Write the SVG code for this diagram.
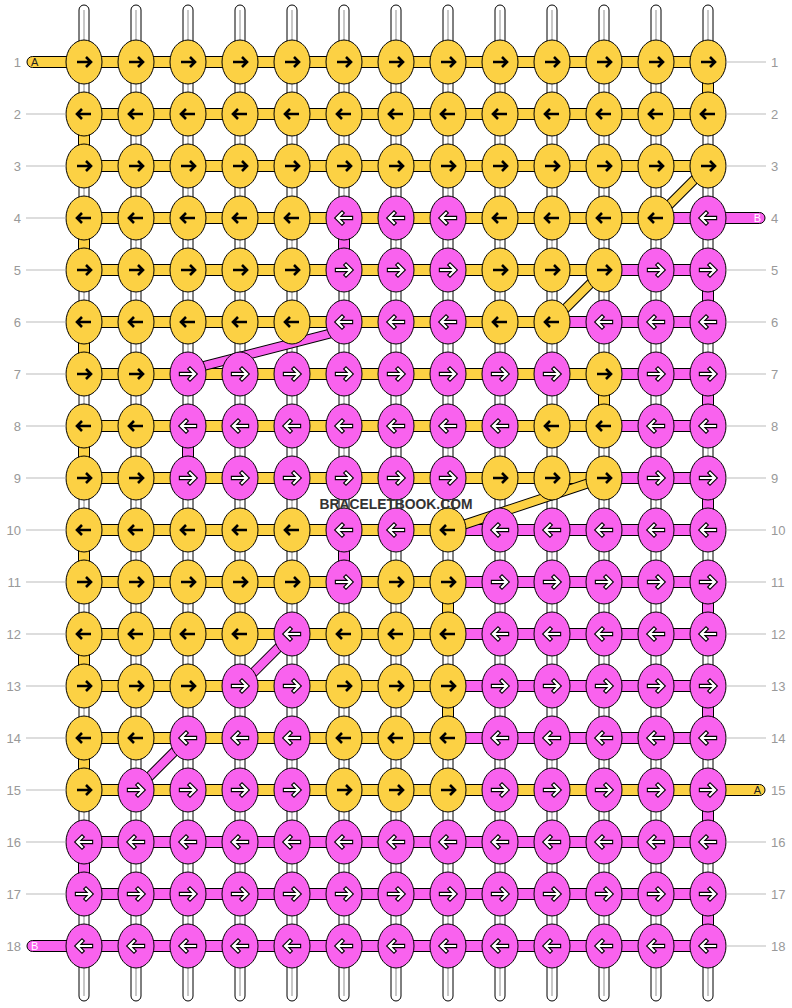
<svg xmlns="http://www.w3.org/2000/svg" xmlns:xlink="http://www.w3.org/1999/xlink" width="792" height="1008" viewBox="0 0 792 1008">
<style>
.Y{fill:#FCD144;stroke:#000;stroke-width:1}
.P{fill:#F962EE;stroke:#000;stroke-width:1}
.ab{fill:none;stroke:#000;stroke-width:2.6}
.ao{fill:none;stroke:#000;stroke-width:4.4;stroke-linecap:square}
.aw{fill:none;stroke:#fff;stroke-width:2.2;stroke-linecap:square}
.st{fill:#fff;stroke:#000;stroke-width:1}
.sl{stroke:#c8c8c8;stroke-width:2}
.dy{stroke:#000;stroke-width:10;stroke-linecap:butt}
.dyi{stroke:#FCD144;stroke-width:8}
.dpi{stroke:#F962EE;stroke-width:8}
.lab{font-family:"Liberation Sans",Arial,sans-serif;font-size:13px;fill:#999}
.ll{stroke:#bbb;stroke-width:1}
.tl{font-family:"Liberation Sans",Arial,sans-serif;font-size:11px}
</style>
<defs>
<g id="Yr"><ellipse rx="18" ry="22" class="Y"/><path d="M-7,0H6M2,-5L7,0L2,5" class="ab"/></g>
<g id="Yl"><ellipse rx="18" ry="22" class="Y"/><path d="M7,0H-6M-2,-5L-7,0L-2,5" class="ab"/></g>
<g id="Pr"><ellipse rx="18" ry="22" class="P"/><path d="M-7,0H6M2,-5L7,0L2,5" class="ao"/><path d="M-7,0H6M2,-5L7,0L2,5" class="aw"/></g>
<g id="Pl"><ellipse rx="18" ry="22" class="P"/><path d="M7,0H-6M-2,-5L-7,0L-2,5" class="ao"/><path d="M7,0H-6M-2,-5L-7,0L-2,5" class="aw"/></g>
</defs>
<g id="strands">
<rect class="st" x="79" y="5" width="10" height="996" rx="5"/><line class="sl" x1="84" y1="10" x2="84" y2="996"/>
<rect class="st" x="131" y="5" width="10" height="996" rx="5"/><line class="sl" x1="136" y1="10" x2="136" y2="996"/>
<rect class="st" x="183" y="5" width="10" height="996" rx="5"/><line class="sl" x1="188" y1="10" x2="188" y2="996"/>
<rect class="st" x="235" y="5" width="10" height="996" rx="5"/><line class="sl" x1="240" y1="10" x2="240" y2="996"/>
<rect class="st" x="287" y="5" width="10" height="996" rx="5"/><line class="sl" x1="292" y1="10" x2="292" y2="996"/>
<rect class="st" x="339" y="5" width="10" height="996" rx="5"/><line class="sl" x1="344" y1="10" x2="344" y2="996"/>
<rect class="st" x="391" y="5" width="10" height="996" rx="5"/><line class="sl" x1="396" y1="10" x2="396" y2="996"/>
<rect class="st" x="443" y="5" width="10" height="996" rx="5"/><line class="sl" x1="448" y1="10" x2="448" y2="996"/>
<rect class="st" x="495" y="5" width="10" height="996" rx="5"/><line class="sl" x1="500" y1="10" x2="500" y2="996"/>
<rect class="st" x="547" y="5" width="10" height="996" rx="5"/><line class="sl" x1="552" y1="10" x2="552" y2="996"/>
<rect class="st" x="599" y="5" width="10" height="996" rx="5"/><line class="sl" x1="604" y1="10" x2="604" y2="996"/>
<rect class="st" x="651" y="5" width="10" height="996" rx="5"/><line class="sl" x1="656" y1="10" x2="656" y2="996"/>
<rect class="st" x="703" y="5" width="10" height="996" rx="5"/><line class="sl" x1="708" y1="10" x2="708" y2="996"/>
</g>
<g id="connectors">
<rect class="Y" x="27" y="56.5" width="681" height="11" rx="5.5"/>
<rect class="Y" x="84" y="108.5" width="624" height="11"/>
<rect class="Y" x="84" y="160.5" width="624" height="11"/>
<rect class="Y" x="84" y="212.5" width="572" height="11"/><rect class="P" x="656" y="212.5" width="109" height="11" rx="5.5"/>
<rect class="Y" x="84" y="264.5" width="520" height="11"/><rect class="P" x="604" y="264.5" width="104" height="11"/>
<rect class="Y" x="84" y="316.5" width="468" height="11"/><rect class="P" x="552" y="316.5" width="156" height="11"/>
<rect class="Y" x="84" y="368.5" width="520" height="11"/><rect class="P" x="604" y="368.5" width="104" height="11"/>
<rect class="Y" x="84" y="420.5" width="520" height="11"/><rect class="P" x="604" y="420.5" width="104" height="11"/>
<rect class="Y" x="84" y="472.5" width="520" height="11"/><rect class="P" x="604" y="472.5" width="104" height="11"/>
<rect class="Y" x="84" y="524.5" width="364" height="11"/><rect class="P" x="448" y="524.5" width="260" height="11"/>
<rect class="Y" x="84" y="576.5" width="364" height="11"/><rect class="P" x="448" y="576.5" width="260" height="11"/>
<rect class="Y" x="84" y="628.5" width="364" height="11"/><rect class="P" x="448" y="628.5" width="260" height="11"/>
<rect class="Y" x="84" y="680.5" width="364" height="11"/><rect class="P" x="448" y="680.5" width="260" height="11"/>
<rect class="Y" x="84" y="732.5" width="364" height="11"/><rect class="P" x="448" y="732.5" width="260" height="11"/>
<rect class="Y" x="84" y="784.5" width="681" height="11" rx="5.5"/>
<rect class="P" x="84" y="836.5" width="624" height="11"/>
<rect class="P" x="84" y="888.5" width="624" height="11"/>
<rect class="P" x="27" y="940.5" width="681" height="11" rx="5.5"/>
<rect class="Y" x="702.5" y="72" width="32" height="0" style="display:none"/>
<rect class="Y" x="702.5" y="72" width="11" height="32"/>
<rect class="Y" x="78.5" y="124" width="11" height="32"/>
<rect class="Y" x="78.5" y="228" width="11" height="32"/>
<rect class="Y" x="78.5" y="332" width="11" height="32"/>
<rect class="Y" x="78.5" y="436" width="11" height="32"/>
<rect class="Y" x="78.5" y="540" width="11" height="32"/>
<rect class="Y" x="78.5" y="644" width="11" height="32"/>
<rect class="Y" x="78.5" y="748" width="11" height="32"/>
<rect class="P" x="78.5" y="852" width="11" height="32"/>
<rect class="P" x="338.5" y="228" width="11" height="32"/>
<rect class="P" x="338.5" y="540" width="11" height="32"/>
<rect class="P" x="182.5" y="436" width="11" height="32"/>
<rect class="P" x="702.5" y="280" width="11" height="32"/>
<rect class="P" x="702.5" y="384" width="11" height="32"/>
<rect class="P" x="702.5" y="488" width="11" height="32"/>
<rect class="P" x="702.5" y="592" width="11" height="32"/>
<rect class="P" x="702.5" y="696" width="11" height="32"/>
<rect class="P" x="702.5" y="800" width="11" height="32"/>
<rect class="P" x="702.5" y="904" width="11" height="32"/>
<rect class="Y" x="598.5" y="384" width="11" height="32"/>
<rect class="Y" x="442.5" y="592" width="11" height="32"/>
<rect class="Y" x="442.5" y="696" width="11" height="32"/>
<line class="dy" x1="708" y1="166" x2="656" y2="218"/><line class="dyi" x1="708" y1="166" x2="656" y2="218"/>
<line class="dy" x1="604" y1="270" x2="552" y2="322"/><line class="dyi" x1="604" y1="270" x2="552" y2="322"/>
<line class="dy" x1="604" y1="478" x2="448" y2="530"/><line class="dyi" x1="604" y1="478" x2="448" y2="530"/>
<line class="dy" x1="344" y1="330" x2="188" y2="370"/><line class="dpi" x1="344" y1="330" x2="188" y2="370"/>
<line class="dy" x1="292" y1="634" x2="240" y2="686"/><line class="dpi" x1="292" y1="634" x2="240" y2="686"/>
<line class="dy" x1="188" y1="738" x2="136" y2="790"/><line class="dpi" x1="188" y1="738" x2="136" y2="790"/>
</g>
<g id="knots">
<g id="k1_1" transform="translate(84 62)"><use href="#Yr"/></g>
<g id="k1_2" transform="translate(136 62)"><use href="#Yr"/></g>
<g id="k1_3" transform="translate(188 62)"><use href="#Yr"/></g>
<g id="k1_4" transform="translate(240 62)"><use href="#Yr"/></g>
<g id="k1_5" transform="translate(292 62)"><use href="#Yr"/></g>
<g id="k1_6" transform="translate(344 62)"><use href="#Yr"/></g>
<g id="k1_7" transform="translate(396 62)"><use href="#Yr"/></g>
<g id="k1_8" transform="translate(448 62)"><use href="#Yr"/></g>
<g id="k1_9" transform="translate(500 62)"><use href="#Yr"/></g>
<g id="k1_10" transform="translate(552 62)"><use href="#Yr"/></g>
<g id="k1_11" transform="translate(604 62)"><use href="#Yr"/></g>
<g id="k1_12" transform="translate(656 62)"><use href="#Yr"/></g>
<g id="k1_13" transform="translate(708 62)"><use href="#Yr"/></g>
<g id="k2_1" transform="translate(84 114)"><use href="#Yl"/></g>
<g id="k2_2" transform="translate(136 114)"><use href="#Yl"/></g>
<g id="k2_3" transform="translate(188 114)"><use href="#Yl"/></g>
<g id="k2_4" transform="translate(240 114)"><use href="#Yl"/></g>
<g id="k2_5" transform="translate(292 114)"><use href="#Yl"/></g>
<g id="k2_6" transform="translate(344 114)"><use href="#Yl"/></g>
<g id="k2_7" transform="translate(396 114)"><use href="#Yl"/></g>
<g id="k2_8" transform="translate(448 114)"><use href="#Yl"/></g>
<g id="k2_9" transform="translate(500 114)"><use href="#Yl"/></g>
<g id="k2_10" transform="translate(552 114)"><use href="#Yl"/></g>
<g id="k2_11" transform="translate(604 114)"><use href="#Yl"/></g>
<g id="k2_12" transform="translate(656 114)"><use href="#Yl"/></g>
<g id="k2_13" transform="translate(708 114)"><use href="#Yl"/></g>
<g id="k3_1" transform="translate(84 166)"><use href="#Yr"/></g>
<g id="k3_2" transform="translate(136 166)"><use href="#Yr"/></g>
<g id="k3_3" transform="translate(188 166)"><use href="#Yr"/></g>
<g id="k3_4" transform="translate(240 166)"><use href="#Yr"/></g>
<g id="k3_5" transform="translate(292 166)"><use href="#Yr"/></g>
<g id="k3_6" transform="translate(344 166)"><use href="#Yr"/></g>
<g id="k3_7" transform="translate(396 166)"><use href="#Yr"/></g>
<g id="k3_8" transform="translate(448 166)"><use href="#Yr"/></g>
<g id="k3_9" transform="translate(500 166)"><use href="#Yr"/></g>
<g id="k3_10" transform="translate(552 166)"><use href="#Yr"/></g>
<g id="k3_11" transform="translate(604 166)"><use href="#Yr"/></g>
<g id="k3_12" transform="translate(656 166)"><use href="#Yr"/></g>
<g id="k3_13" transform="translate(708 166)"><use href="#Yr"/></g>
<g id="k4_1" transform="translate(84 218)"><use href="#Yl"/></g>
<g id="k4_2" transform="translate(136 218)"><use href="#Yl"/></g>
<g id="k4_3" transform="translate(188 218)"><use href="#Yl"/></g>
<g id="k4_4" transform="translate(240 218)"><use href="#Yl"/></g>
<g id="k4_5" transform="translate(292 218)"><use href="#Yl"/></g>
<g id="k4_6" transform="translate(344 218)"><use href="#Pl"/></g>
<g id="k4_7" transform="translate(396 218)"><use href="#Pl"/></g>
<g id="k4_8" transform="translate(448 218)"><use href="#Pl"/></g>
<g id="k4_9" transform="translate(500 218)"><use href="#Yl"/></g>
<g id="k4_10" transform="translate(552 218)"><use href="#Yl"/></g>
<g id="k4_11" transform="translate(604 218)"><use href="#Yl"/></g>
<g id="k4_12" transform="translate(656 218)"><use href="#Yl"/></g>
<g id="k4_13" transform="translate(708 218)"><use href="#Pl"/></g>
<g id="k5_1" transform="translate(84 270)"><use href="#Yr"/></g>
<g id="k5_2" transform="translate(136 270)"><use href="#Yr"/></g>
<g id="k5_3" transform="translate(188 270)"><use href="#Yr"/></g>
<g id="k5_4" transform="translate(240 270)"><use href="#Yr"/></g>
<g id="k5_5" transform="translate(292 270)"><use href="#Yr"/></g>
<g id="k5_6" transform="translate(344 270)"><use href="#Pr"/></g>
<g id="k5_7" transform="translate(396 270)"><use href="#Pr"/></g>
<g id="k5_8" transform="translate(448 270)"><use href="#Pr"/></g>
<g id="k5_9" transform="translate(500 270)"><use href="#Yr"/></g>
<g id="k5_10" transform="translate(552 270)"><use href="#Yr"/></g>
<g id="k5_11" transform="translate(604 270)"><use href="#Yr"/></g>
<g id="k5_12" transform="translate(656 270)"><use href="#Pr"/></g>
<g id="k5_13" transform="translate(708 270)"><use href="#Pr"/></g>
<g id="k6_1" transform="translate(84 322)"><use href="#Yl"/></g>
<g id="k6_2" transform="translate(136 322)"><use href="#Yl"/></g>
<g id="k6_3" transform="translate(188 322)"><use href="#Yl"/></g>
<g id="k6_4" transform="translate(240 322)"><use href="#Yl"/></g>
<g id="k6_5" transform="translate(292 322)"><use href="#Yl"/></g>
<g id="k6_6" transform="translate(344 322)"><use href="#Pl"/></g>
<g id="k6_7" transform="translate(396 322)"><use href="#Pl"/></g>
<g id="k6_8" transform="translate(448 322)"><use href="#Pl"/></g>
<g id="k6_9" transform="translate(500 322)"><use href="#Yl"/></g>
<g id="k6_10" transform="translate(552 322)"><use href="#Yl"/></g>
<g id="k6_11" transform="translate(604 322)"><use href="#Pl"/></g>
<g id="k6_12" transform="translate(656 322)"><use href="#Pl"/></g>
<g id="k6_13" transform="translate(708 322)"><use href="#Pl"/></g>
<g id="k7_1" transform="translate(84 374)"><use href="#Yr"/></g>
<g id="k7_2" transform="translate(136 374)"><use href="#Yr"/></g>
<g id="k7_3" transform="translate(188 374)"><use href="#Pr"/></g>
<g id="k7_4" transform="translate(240 374)"><use href="#Pr"/></g>
<g id="k7_5" transform="translate(292 374)"><use href="#Pr"/></g>
<g id="k7_6" transform="translate(344 374)"><use href="#Pr"/></g>
<g id="k7_7" transform="translate(396 374)"><use href="#Pr"/></g>
<g id="k7_8" transform="translate(448 374)"><use href="#Pr"/></g>
<g id="k7_9" transform="translate(500 374)"><use href="#Pr"/></g>
<g id="k7_10" transform="translate(552 374)"><use href="#Pr"/></g>
<g id="k7_11" transform="translate(604 374)"><use href="#Yr"/></g>
<g id="k7_12" transform="translate(656 374)"><use href="#Pr"/></g>
<g id="k7_13" transform="translate(708 374)"><use href="#Pr"/></g>
<g id="k8_1" transform="translate(84 426)"><use href="#Yl"/></g>
<g id="k8_2" transform="translate(136 426)"><use href="#Yl"/></g>
<g id="k8_3" transform="translate(188 426)"><use href="#Pl"/></g>
<g id="k8_4" transform="translate(240 426)"><use href="#Pl"/></g>
<g id="k8_5" transform="translate(292 426)"><use href="#Pl"/></g>
<g id="k8_6" transform="translate(344 426)"><use href="#Pl"/></g>
<g id="k8_7" transform="translate(396 426)"><use href="#Pl"/></g>
<g id="k8_8" transform="translate(448 426)"><use href="#Pl"/></g>
<g id="k8_9" transform="translate(500 426)"><use href="#Pl"/></g>
<g id="k8_10" transform="translate(552 426)"><use href="#Yl"/></g>
<g id="k8_11" transform="translate(604 426)"><use href="#Yl"/></g>
<g id="k8_12" transform="translate(656 426)"><use href="#Pl"/></g>
<g id="k8_13" transform="translate(708 426)"><use href="#Pl"/></g>
<g id="k9_1" transform="translate(84 478)"><use href="#Yr"/></g>
<g id="k9_2" transform="translate(136 478)"><use href="#Yr"/></g>
<g id="k9_3" transform="translate(188 478)"><use href="#Pr"/></g>
<g id="k9_4" transform="translate(240 478)"><use href="#Pr"/></g>
<g id="k9_5" transform="translate(292 478)"><use href="#Pr"/></g>
<g id="k9_6" transform="translate(344 478)"><use href="#Pr"/></g>
<g id="k9_7" transform="translate(396 478)"><use href="#Pr"/></g>
<g id="k9_8" transform="translate(448 478)"><use href="#Pr"/></g>
<g id="k9_9" transform="translate(500 478)"><use href="#Yr"/></g>
<g id="k9_10" transform="translate(552 478)"><use href="#Yr"/></g>
<g id="k9_11" transform="translate(604 478)"><use href="#Yr"/></g>
<g id="k9_12" transform="translate(656 478)"><use href="#Pr"/></g>
<g id="k9_13" transform="translate(708 478)"><use href="#Pr"/></g>
<g id="k10_1" transform="translate(84 530)"><use href="#Yl"/></g>
<g id="k10_2" transform="translate(136 530)"><use href="#Yl"/></g>
<g id="k10_3" transform="translate(188 530)"><use href="#Yl"/></g>
<g id="k10_4" transform="translate(240 530)"><use href="#Yl"/></g>
<g id="k10_5" transform="translate(292 530)"><use href="#Yl"/></g>
<g id="k10_6" transform="translate(344 530)"><use href="#Pl"/></g>
<g id="k10_7" transform="translate(396 530)"><use href="#Pl"/></g>
<g id="k10_8" transform="translate(448 530)"><use href="#Yl"/></g>
<g id="k10_9" transform="translate(500 530)"><use href="#Pl"/></g>
<g id="k10_10" transform="translate(552 530)"><use href="#Pl"/></g>
<g id="k10_11" transform="translate(604 530)"><use href="#Pl"/></g>
<g id="k10_12" transform="translate(656 530)"><use href="#Pl"/></g>
<g id="k10_13" transform="translate(708 530)"><use href="#Pl"/></g>
<g id="k11_1" transform="translate(84 582)"><use href="#Yr"/></g>
<g id="k11_2" transform="translate(136 582)"><use href="#Yr"/></g>
<g id="k11_3" transform="translate(188 582)"><use href="#Yr"/></g>
<g id="k11_4" transform="translate(240 582)"><use href="#Yr"/></g>
<g id="k11_5" transform="translate(292 582)"><use href="#Yr"/></g>
<g id="k11_6" transform="translate(344 582)"><use href="#Pr"/></g>
<g id="k11_7" transform="translate(396 582)"><use href="#Yr"/></g>
<g id="k11_8" transform="translate(448 582)"><use href="#Yr"/></g>
<g id="k11_9" transform="translate(500 582)"><use href="#Pr"/></g>
<g id="k11_10" transform="translate(552 582)"><use href="#Pr"/></g>
<g id="k11_11" transform="translate(604 582)"><use href="#Pr"/></g>
<g id="k11_12" transform="translate(656 582)"><use href="#Pr"/></g>
<g id="k11_13" transform="translate(708 582)"><use href="#Pr"/></g>
<g id="k12_1" transform="translate(84 634)"><use href="#Yl"/></g>
<g id="k12_2" transform="translate(136 634)"><use href="#Yl"/></g>
<g id="k12_3" transform="translate(188 634)"><use href="#Yl"/></g>
<g id="k12_4" transform="translate(240 634)"><use href="#Yl"/></g>
<g id="k12_5" transform="translate(292 634)"><use href="#Pl"/></g>
<g id="k12_6" transform="translate(344 634)"><use href="#Yl"/></g>
<g id="k12_7" transform="translate(396 634)"><use href="#Yl"/></g>
<g id="k12_8" transform="translate(448 634)"><use href="#Yl"/></g>
<g id="k12_9" transform="translate(500 634)"><use href="#Pl"/></g>
<g id="k12_10" transform="translate(552 634)"><use href="#Pl"/></g>
<g id="k12_11" transform="translate(604 634)"><use href="#Pl"/></g>
<g id="k12_12" transform="translate(656 634)"><use href="#Pl"/></g>
<g id="k12_13" transform="translate(708 634)"><use href="#Pl"/></g>
<g id="k13_1" transform="translate(84 686)"><use href="#Yr"/></g>
<g id="k13_2" transform="translate(136 686)"><use href="#Yr"/></g>
<g id="k13_3" transform="translate(188 686)"><use href="#Yr"/></g>
<g id="k13_4" transform="translate(240 686)"><use href="#Pr"/></g>
<g id="k13_5" transform="translate(292 686)"><use href="#Pr"/></g>
<g id="k13_6" transform="translate(344 686)"><use href="#Yr"/></g>
<g id="k13_7" transform="translate(396 686)"><use href="#Yr"/></g>
<g id="k13_8" transform="translate(448 686)"><use href="#Yr"/></g>
<g id="k13_9" transform="translate(500 686)"><use href="#Pr"/></g>
<g id="k13_10" transform="translate(552 686)"><use href="#Pr"/></g>
<g id="k13_11" transform="translate(604 686)"><use href="#Pr"/></g>
<g id="k13_12" transform="translate(656 686)"><use href="#Pr"/></g>
<g id="k13_13" transform="translate(708 686)"><use href="#Pr"/></g>
<g id="k14_1" transform="translate(84 738)"><use href="#Yl"/></g>
<g id="k14_2" transform="translate(136 738)"><use href="#Yl"/></g>
<g id="k14_3" transform="translate(188 738)"><use href="#Pl"/></g>
<g id="k14_4" transform="translate(240 738)"><use href="#Pl"/></g>
<g id="k14_5" transform="translate(292 738)"><use href="#Pl"/></g>
<g id="k14_6" transform="translate(344 738)"><use href="#Yl"/></g>
<g id="k14_7" transform="translate(396 738)"><use href="#Yl"/></g>
<g id="k14_8" transform="translate(448 738)"><use href="#Yl"/></g>
<g id="k14_9" transform="translate(500 738)"><use href="#Pl"/></g>
<g id="k14_10" transform="translate(552 738)"><use href="#Pl"/></g>
<g id="k14_11" transform="translate(604 738)"><use href="#Pl"/></g>
<g id="k14_12" transform="translate(656 738)"><use href="#Pl"/></g>
<g id="k14_13" transform="translate(708 738)"><use href="#Pl"/></g>
<g id="k15_1" transform="translate(84 790)"><use href="#Yr"/></g>
<g id="k15_2" transform="translate(136 790)"><use href="#Pr"/></g>
<g id="k15_3" transform="translate(188 790)"><use href="#Pr"/></g>
<g id="k15_4" transform="translate(240 790)"><use href="#Pr"/></g>
<g id="k15_5" transform="translate(292 790)"><use href="#Pr"/></g>
<g id="k15_6" transform="translate(344 790)"><use href="#Yr"/></g>
<g id="k15_7" transform="translate(396 790)"><use href="#Yr"/></g>
<g id="k15_8" transform="translate(448 790)"><use href="#Yr"/></g>
<g id="k15_9" transform="translate(500 790)"><use href="#Pr"/></g>
<g id="k15_10" transform="translate(552 790)"><use href="#Pr"/></g>
<g id="k15_11" transform="translate(604 790)"><use href="#Pr"/></g>
<g id="k15_12" transform="translate(656 790)"><use href="#Pr"/></g>
<g id="k15_13" transform="translate(708 790)"><use href="#Pr"/></g>
<g id="k16_1" transform="translate(84 842)"><use href="#Pl"/></g>
<g id="k16_2" transform="translate(136 842)"><use href="#Pl"/></g>
<g id="k16_3" transform="translate(188 842)"><use href="#Pl"/></g>
<g id="k16_4" transform="translate(240 842)"><use href="#Pl"/></g>
<g id="k16_5" transform="translate(292 842)"><use href="#Pl"/></g>
<g id="k16_6" transform="translate(344 842)"><use href="#Pl"/></g>
<g id="k16_7" transform="translate(396 842)"><use href="#Pl"/></g>
<g id="k16_8" transform="translate(448 842)"><use href="#Pl"/></g>
<g id="k16_9" transform="translate(500 842)"><use href="#Pl"/></g>
<g id="k16_10" transform="translate(552 842)"><use href="#Pl"/></g>
<g id="k16_11" transform="translate(604 842)"><use href="#Pl"/></g>
<g id="k16_12" transform="translate(656 842)"><use href="#Pl"/></g>
<g id="k16_13" transform="translate(708 842)"><use href="#Pl"/></g>
<g id="k17_1" transform="translate(84 894)"><use href="#Pr"/></g>
<g id="k17_2" transform="translate(136 894)"><use href="#Pr"/></g>
<g id="k17_3" transform="translate(188 894)"><use href="#Pr"/></g>
<g id="k17_4" transform="translate(240 894)"><use href="#Pr"/></g>
<g id="k17_5" transform="translate(292 894)"><use href="#Pr"/></g>
<g id="k17_6" transform="translate(344 894)"><use href="#Pr"/></g>
<g id="k17_7" transform="translate(396 894)"><use href="#Pr"/></g>
<g id="k17_8" transform="translate(448 894)"><use href="#Pr"/></g>
<g id="k17_9" transform="translate(500 894)"><use href="#Pr"/></g>
<g id="k17_10" transform="translate(552 894)"><use href="#Pr"/></g>
<g id="k17_11" transform="translate(604 894)"><use href="#Pr"/></g>
<g id="k17_12" transform="translate(656 894)"><use href="#Pr"/></g>
<g id="k17_13" transform="translate(708 894)"><use href="#Pr"/></g>
<g id="k18_1" transform="translate(84 946)"><use href="#Pl"/></g>
<g id="k18_2" transform="translate(136 946)"><use href="#Pl"/></g>
<g id="k18_3" transform="translate(188 946)"><use href="#Pl"/></g>
<g id="k18_4" transform="translate(240 946)"><use href="#Pl"/></g>
<g id="k18_5" transform="translate(292 946)"><use href="#Pl"/></g>
<g id="k18_6" transform="translate(344 946)"><use href="#Pl"/></g>
<g id="k18_7" transform="translate(396 946)"><use href="#Pl"/></g>
<g id="k18_8" transform="translate(448 946)"><use href="#Pl"/></g>
<g id="k18_9" transform="translate(500 946)"><use href="#Pl"/></g>
<g id="k18_10" transform="translate(552 946)"><use href="#Pl"/></g>
<g id="k18_11" transform="translate(604 946)"><use href="#Pl"/></g>
<g id="k18_12" transform="translate(656 946)"><use href="#Pl"/></g>
<g id="k18_13" transform="translate(708 946)"><use href="#Pl"/></g>
</g>
<g id="tails">
<text class="tl" x="31" y="66" fill="#222">A</text>
<text class="tl" x="761" y="222" fill="#fff" text-anchor="end">B</text>
<text class="tl" x="761" y="794" fill="#222" text-anchor="end">A</text>
<text class="tl" x="31" y="950" fill="#fff">B</text>
</g>
<g id="labels">
<line class="ll" x1="26" y1="114" x2="66" y2="114"/><line class="ll" x1="26" y1="166" x2="66" y2="166"/><line class="ll" x1="26" y1="218" x2="66" y2="218"/><line class="ll" x1="26" y1="270" x2="66" y2="270"/><line class="ll" x1="26" y1="322" x2="66" y2="322"/><line class="ll" x1="26" y1="374" x2="66" y2="374"/><line class="ll" x1="26" y1="426" x2="66" y2="426"/><line class="ll" x1="26" y1="478" x2="66" y2="478"/><line class="ll" x1="26" y1="530" x2="66" y2="530"/><line class="ll" x1="26" y1="582" x2="66" y2="582"/><line class="ll" x1="26" y1="634" x2="66" y2="634"/><line class="ll" x1="26" y1="686" x2="66" y2="686"/><line class="ll" x1="26" y1="738" x2="66" y2="738"/><line class="ll" x1="26" y1="790" x2="66" y2="790"/><line class="ll" x1="26" y1="842" x2="66" y2="842"/><line class="ll" x1="26" y1="894" x2="66" y2="894"/>
<line class="ll" x1="726" y1="62" x2="766" y2="62"/><line class="ll" x1="726" y1="114" x2="766" y2="114"/><line class="ll" x1="726" y1="166" x2="766" y2="166"/><line class="ll" x1="726" y1="270" x2="766" y2="270"/><line class="ll" x1="726" y1="322" x2="766" y2="322"/><line class="ll" x1="726" y1="374" x2="766" y2="374"/><line class="ll" x1="726" y1="426" x2="766" y2="426"/><line class="ll" x1="726" y1="478" x2="766" y2="478"/><line class="ll" x1="726" y1="530" x2="766" y2="530"/><line class="ll" x1="726" y1="582" x2="766" y2="582"/><line class="ll" x1="726" y1="634" x2="766" y2="634"/><line class="ll" x1="726" y1="686" x2="766" y2="686"/><line class="ll" x1="726" y1="738" x2="766" y2="738"/><line class="ll" x1="726" y1="842" x2="766" y2="842"/><line class="ll" x1="726" y1="894" x2="766" y2="894"/><line class="ll" x1="726" y1="946" x2="766" y2="946"/>
<g class="lab" text-anchor="end">
<text x="21" y="66.5">1</text><text x="21" y="118.5">2</text><text x="21" y="170.5">3</text><text x="21" y="222.5">4</text><text x="21" y="274.5">5</text><text x="21" y="326.5">6</text><text x="21" y="378.5">7</text><text x="21" y="430.5">8</text><text x="21" y="482.5">9</text><text x="21" y="534.5">10</text><text x="21" y="586.5">11</text><text x="21" y="638.5">12</text><text x="21" y="690.5">13</text><text x="21" y="742.5">14</text><text x="21" y="794.5">15</text><text x="21" y="846.5">16</text><text x="21" y="898.5">17</text><text x="21" y="950.5">18</text>
</g>
<g class="lab">
<text x="771" y="66.5">1</text><text x="771" y="118.5">2</text><text x="771" y="170.5">3</text><text x="771" y="222.5">4</text><text x="771" y="274.5">5</text><text x="771" y="326.5">6</text><text x="771" y="378.5">7</text><text x="771" y="430.5">8</text><text x="771" y="482.5">9</text><text x="771" y="534.5">10</text><text x="771" y="586.5">11</text><text x="771" y="638.5">12</text><text x="771" y="690.5">13</text><text x="771" y="742.5">14</text><text x="771" y="794.5">15</text><text x="771" y="846.5">16</text><text x="771" y="898.5">17</text><text x="771" y="950.5">18</text>
</g>
</g>
<text id="watermark" x="396" y="509" text-anchor="middle" font-family="'Liberation Sans',Arial,sans-serif" font-weight="bold" font-size="15" fill="#333" textLength="153" lengthAdjust="spacingAndGlyphs">BRACELETBOOK.COM</text>
</svg>
